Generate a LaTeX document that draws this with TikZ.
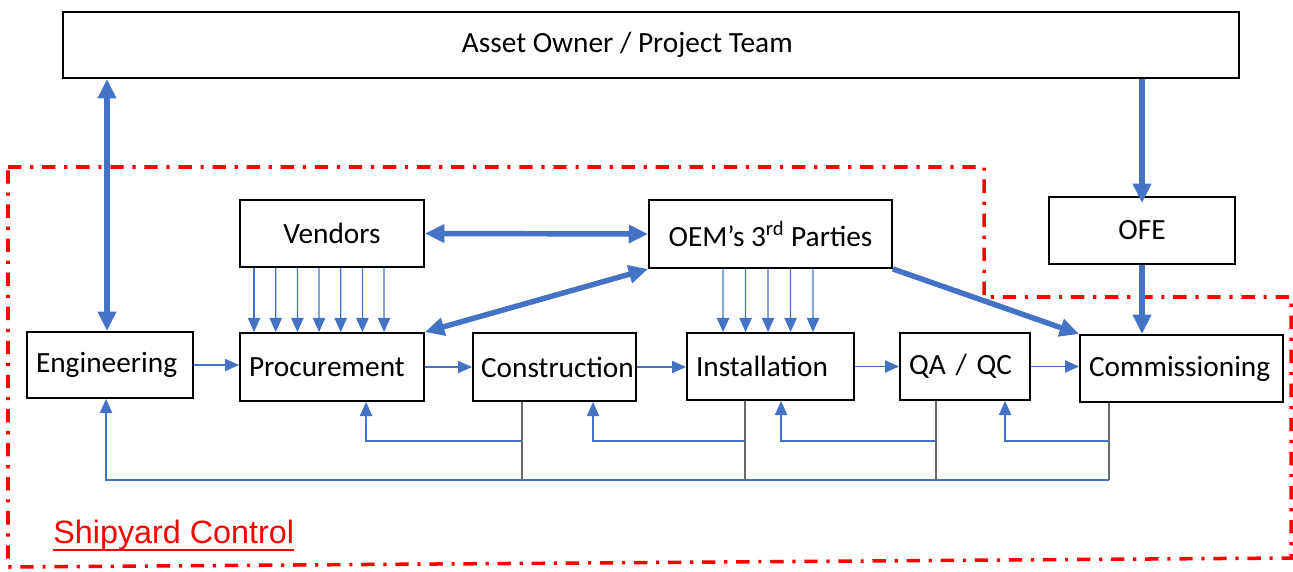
\documentclass[tikz,border=0pt]{standalone}
\usepackage{fontspec}
\setmainfont{Carlito}
\newfontfamily\zonefont{Liberation Sans}
\usetikzlibrary{arrows.meta,calc,positioning}
\definecolor{flowblue}{RGB}{68,114,196}
\definecolor{dropgray}{RGB}{105,105,105}

\begin{document}
\begin{tikzpicture}[x=0.02cm, y=-0.02cm,
    box/.style={rectangle, draw, line width=1.1pt, minimum height=1.34cm, align=center, font=\fontsize{16.7}{20}\selectfont},
    stage/.style={box, text width=#1, align=left, inner xsep=0.18cm},
    fat/.style={flowblue, line width=3.1pt, -{Triangle[length=11pt,width=10pt]}},
    fatboth/.style={fat, {Triangle[length=11pt,width=10pt]}-{Triangle[length=11pt,width=10pt]}},
    link/.style={flowblue, line width=0.7pt, -{Triangle[length=8pt,width=7pt]}},
    drop/.style={dropgray, line width=0.8pt},
    zone/.style={red, line width=2pt, dash pattern=on 7.6pt off 5pt on 1.8pt off 5pt}
]
    \useasboundingbox (0,0) rectangle (1293,571);

    % Shipyard control boundary
    \draw[zone] (8,167) -- (984,167) -- (984,297) -- (1291,297) -- (1291,558) -- (8,567) -- cycle;
    \node[red, font=\zonefont\fontsize{18.4}{22}\selectfont, inner sep=0, anchor=base west] (ship) at (53,543) {Shipyard Control};
    \draw[red, line width=1pt] (ship.south west) -- (ship.south east);

    % Owner
    \node[box, minimum width=23.52cm, minimum height=1.32cm] (asset) at (651,45) {Asset Owner / Project Team\hspace{27pt}};

    % Suppliers
    \node[box, minimum width=3.68cm] (vend) at (332,233.5) {Vendors};
    \node[box, minimum width=4.86cm, minimum height=1.36cm] (oem) at (770.5,234) {OEM’s 3\textsuperscript{rd} Parties};
    \node[box, minimum width=3.72cm] (ofe) at (1142,230.5) {OFE};

    % Project stages
    \node[stage=2.96cm, minimum height=1.32cm] (eng) at (110,365) {Engineering};
    \node[stage=3.32cm, minimum height=1.36cm] (proc) at (332,367) {Procurement};
    \node[stage=2.94cm, minimum height=1.36cm, inner xsep=0.16cm] (constr) at (554.5,367) {Construction};
    \node[stage=2.98cm] (inst) at (770.5,366.5) {Installation};
    \node[stage=2.24cm] (qa) at (965,366.5) {QA / QC};
    \node[stage=3.70cm] (comm) at (1181.5,368.5) {Commissioning};

    % Owner links
    \draw[fatboth] (eng.north -| 107,0) -- (asset.south -| 107,0);
    \draw[fat] (asset.south -| ofe.north) -- ([yshift=-4pt]ofe.north);
    \draw[fat] (ofe.south) -- (ofe.south |- comm.north);

    % Supplier links
    \draw[fatboth] (vend.east) -- (oem.west);
    \draw[fatboth] (oem.south west) -- (proc.north east);
    \draw[fat] (oem.south east) -- (comm.north west);
    \foreach \i in {0,...,6}
        \draw[link] ($(vend.south west)+(15+21.67*\i,0)$) -- ($(proc.north west)+(15+21.67*\i,0)$);
    \foreach \i in {0,...,4}
        \draw[link] ($(oem.south west)+(75+22.5*\i,0)$) -- ($(inst.north west)+(37+22.5*\i,0)$);

    % Main flow
    \draw[link] (eng.east) -- (eng.east -| proc.west);
    \draw[link] (proc.east) -- (constr.west);
    \draw[link] (constr.east) -- (constr.east -| inst.west);
    \draw[link] (inst.east) -- (qa.west);
    \draw[link] (qa.east) -- (qa.east -| comm.west);

    % Feedback
    \coordinate (fbup) at (0,441);
    \coordinate (fblow) at (0,480);
    \coordinate (dC) at ($(constr.south west)+(50,0)$);
    \coordinate (dI) at ($(inst.south west)+(59,0)$);
    \coordinate (dQ) at ($(qa.south west)+(37,0)$);
    \coordinate (dM) at ($(comm.south west)+(30,0)$);
    \coordinate (tE) at ($(eng.south west)+(80,0)$);
    \coordinate (tP) at ($(proc.south west)+(127,0)$);
    \coordinate (tC) at ($(constr.south west)+(121,0)$);
    \coordinate (tI) at ($(inst.south west)+(95,0)$);
    \coordinate (tQ) at ($(qa.south west)+(106,0)$);
    \draw[link] (dC |- fbup) -| (tP);
    \draw[link] (dI |- fbup) -| (tC);
    \draw[link] (dQ |- fbup) -| (tI);
    \draw[link] (dM |- fbup) -| (tQ);
    \draw[link] (dM |- fblow) -| (tE);
    \draw[drop] (dC) -- (dC |- fblow);
    \draw[drop] (dI) -- (dI |- fblow);
    \draw[drop] (dQ) -- (dQ |- fblow);
    \draw[drop] (dM) -- (dM |- fblow);
\end{tikzpicture}
\end{document}
